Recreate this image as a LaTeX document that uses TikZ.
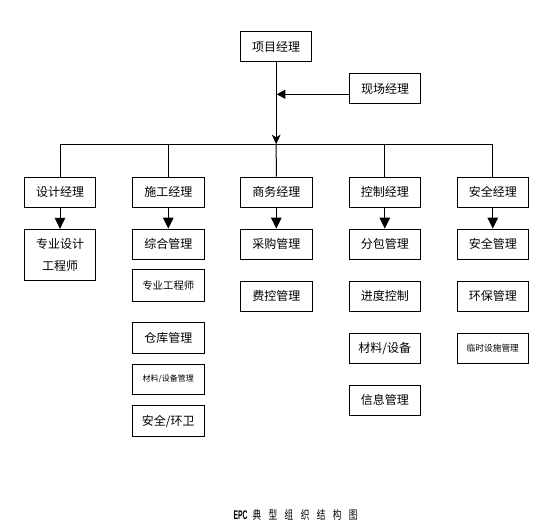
\documentclass[tikz,border=0pt]{standalone}
\usepackage{graphicx}
\usepackage{fontspec}
\setmainfont{Noto Sans CJK SC}
\newfontfamily\latinfont{Liberation Sans}
\usetikzlibrary{arrows.meta}
\newcommand\tch[1]{\scalebox{0.72}[1]{#1}}
\tikzset{
  bx/.style={draw, line width=1pt, minimum width=71.5pt, minimum height=30.4pt, inner sep=0pt, font=\fontsize{12}{14}\selectfont},
  conn/.style={line width=1pt},
  tri/.style={-{Triangle[width=10.5pt,length=11pt]}},
  trileft/.style={-{Triangle[width=9pt,length=8.5pt]}},
  tridown/.style={-{Stealth[width=8.5pt,length=9.5pt,inset=2.5pt]}}
}
\begin{document}
\begin{tikzpicture}[x=1pt,y=-1pt]
\useasboundingbox (0,0) rectangle (553,530);
% top
\node[bx] (pm) at (276.2,46.7) {项目经理};
\node[bx] (sm) at (385,88.5) {现场经理};
\coordinate (bus) at (276.2,144.3);
\coordinate (busL) at (60,144.3);
\coordinate (busR) at (492.8,144.3);
% row 1
\node[bx] (d1) at (60,192.3) {设计经理};
\node[bx] (d2) at (168.3,192.3) {施工经理};
\node[bx] (d3) at (276.3,192.3) {商务经理};
\node[bx] (d4) at (384.8,192.3) {控制经理};
\node[bx] (d5) at (492.8,192.3) {安全经理};
% col 1
\node[bx, minimum height=50.7pt, align=center, font=\fontsize{12}{21.7}\selectfont] (a1) at (60,254.7) {专业设计\\工程师};
% col 2
\node[bx] (b1) at (168.3,244.3) {综合管理};
\node[bx, minimum height=31.7pt, font=\fontsize{10.4}{12}\selectfont] (b2) at (168.3,285.8) {专业工程师};
\node[bx] (b3) at (168.3,337.8) {仓库管理};
\node[bx, font=\fontsize{8}{10}\selectfont] (b4) at (168.3,379.3) {材料/设备管理};
\node[bx, minimum height=31.4pt] (b5) at (168.3,421) {安全/环卫};
% col 3
\node[bx] (c1) at (276.3,244.3) {采购管理};
\node[bx] (c2) at (276.3,296.2) {费控管理};
% col 4
\node[bx] (e1) at (384.8,244.3) {分包管理};
\node[bx] (e2) at (384.8,296.3) {进度控制};
\node[bx] (e3) at (384.8,348.3) {材料/设备};
\node[bx] (e4) at (384.8,400.2) {信息管理};
% col 5
\node[bx] (f1) at (492.8,244.3) {安全管理};
\node[bx] (f2) at (492.8,296.3) {环保管理};
\node[bx, font=\fontsize{8.7}{10}\selectfont] (f3) at (492.8,348.3) {临时设施管理};
% connectors
\draw[conn, tridown] (pm.south) -- (bus);
\coordinate (smarr) at ([yshift=-5.8pt]sm.west);
\draw[conn, trileft] (smarr) -- ([xshift=0.6pt]pm.south |- smarr);
\draw[conn] (busL) -- (busR);
\draw[conn] (busL) -- (d1.north);
\draw[conn] (busL -| d2.north) -- (d2.north);
\draw[conn] (bus) -- (d3.north);
\draw[conn] (busL -| d4.north) -- (d4.north);
\draw[conn] (busR) -- (d5.north);
\draw[conn, tri] (d1.south) -- (a1.north);
\draw[conn, tri] (d2.south) -- (b1.north);
\draw[conn, tri] (d3.south) -- (c1.north);
\draw[conn, tri] (d4.south) -- (e1.north);
\draw[conn, tri] (d5.south) -- (f1.north);
% title
\node[inner sep=0pt, anchor=west, font=\fontsize{12}{14}\selectfont] (title) at (233.3,515) {\scalebox{0.55}[1]{\latinfont\bfseries\fontsize{12.5}{14}\selectfont EPC}\hspace{5pt}\tch{典}\hspace{7.4pt}\tch{型}\hspace{7.4pt}\tch{组}\hspace{7.4pt}\tch{织}\hspace{7.4pt}\tch{结}\hspace{7.4pt}\tch{构}\hspace{7.4pt}\tch{图}};
\end{tikzpicture}
\end{document}
